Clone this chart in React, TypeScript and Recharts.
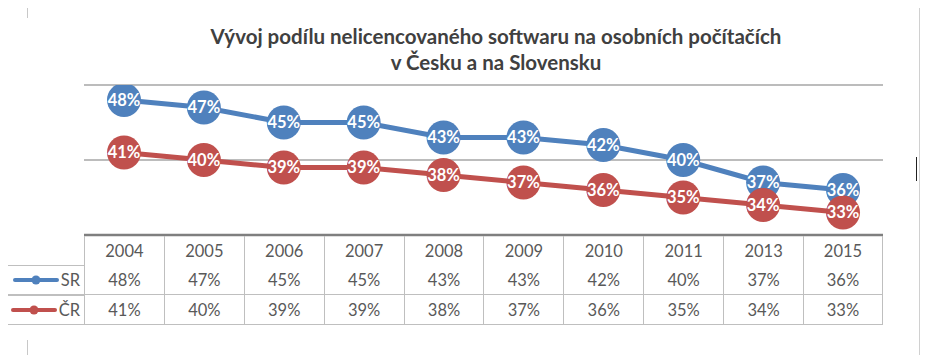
import React from 'react';
import { LineChart, Line, XAxis, YAxis, ReferenceLine, LabelList } from 'recharts';

const years = ['2004', '2005', '2006', '2007', '2008', '2009', '2010', '2011', '2013', '2015'];
const srValues = [48, 47, 45, 45, 43, 43, 42, 40, 37, 36];
const crValues = [41, 40, 39, 39, 38, 37, 36, 35, 34, 33];
const gridValues = [50, 40];

const SR_COLOR = '#4F81BD';
const CR_COLOR = '#C0504D';
const FONT = 'Lato, "Open Sans", sans-serif';

const data = years.map((year, i) => ({ year, sr: srValues[i], cr: crValues[i] }));

const BigDot = (props: any) => {
  const { cx, cy, fill } = props;
  if (cx == null || cy == null) return null;
  return <circle cx={cx} cy={cy} r={17} fill={fill} />;
};

const pct = (v: any) => `${v}%`;

const cellBase: React.CSSProperties = {
  boxSizing: 'border-box',
  height: 30,
  display: 'flex',
  alignItems: 'center',
  justifyContent: 'center',
  color: '#595959',
  fontSize: 16.5,
};

const LegendKey = ({ color }: { color: string }) => (
  <svg width={46} height={10} style={{ marginRight: 2 }}>
    <line x1={2} y1={5} x2={44} y2={5} stroke={color} strokeWidth={4} strokeLinecap="round" />
    <circle cx={23} cy={5} r={4.5} fill={color} />
  </svg>
);

const TableRow = ({ label, color, values }: { label: string; color: string; values: number[] }) => (
  <div style={{ display: 'flex' }}>
    <div
      style={{
        ...cellBase,
        width: 77,
        justifyContent: 'flex-end',
        paddingRight: 4,
        borderLeft: '1px solid #bfbfbf',
        borderBottom: '1px solid #bfbfbf',
        borderTop: '1px solid #bfbfbf',
      }}
    >
      <LegendKey color={color} />
      {label}
    </div>
    {values.map((v, i) => (
      <div
        key={i}
        style={{
          ...cellBase,
          width: 79.9,
          borderLeft: '1px solid #bfbfbf',
          borderBottom: '1px solid #bfbfbf',
          borderRight: i === values.length - 1 ? '1px solid #bfbfbf' : undefined,
        }}
      >
        {pct(v)}
      </div>
    ))}
  </div>
);

export default function App() {
  return (
    <div style={{ position: 'relative', width: 936, height: 363, background: '#fff', fontFamily: FONT, margin: -8, overflow: 'hidden' }}>
      <div
        style={{
          position: 'absolute',
          left: 0,
          width: 992,
          top: 23,
          textAlign: 'center',
          fontWeight: 700,
          fontSize: 20.5,
          lineHeight: '26px',
          color: '#404040',
        }}
      >
        Vývoj podílu nelicencovaného softwaru na osobních počítačích
        <br />
        v Česku a na Slovensku
      </div>

      <div style={{ position: 'absolute', left: 0, top: 0 }}>
        <LineChart width={936} height={363} data={data} margin={{ top: 85, right: 53, bottom: 128, left: 84 }}>
          <XAxis dataKey="year" hide padding={{ left: 40, right: 40 }} />
          <YAxis hide domain={[30, 50]} type="number" allowDataOverflow />
          {gridValues.map((g) => (
            <ReferenceLine key={g} y={g} stroke="#a6a6a6" strokeWidth={1.5} />
          ))}
          <ReferenceLine y={30} stroke="#7f7f7f" strokeWidth={2.5} />
          <Line
            dataKey="sr"
            stroke={SR_COLOR}
            strokeWidth={5}
            dot={<BigDot fill={SR_COLOR} />}
            activeDot={false}
            isAnimationActive={false}
          >
            <LabelList dataKey="sr" position="center" formatter={pct} fill="#fff" fontSize={16.5} fontWeight={700} fontFamily={FONT} />
          </Line>
          <Line
            dataKey="cr"
            stroke={CR_COLOR}
            strokeWidth={5}
            dot={<BigDot fill={CR_COLOR} />}
            activeDot={false}
            isAnimationActive={false}
          >
            <LabelList dataKey="cr" position="center" formatter={pct} fill="#fff" fontSize={16.5} fontWeight={700} fontFamily={FONT} />
          </Line>
        </LineChart>
      </div>

      <div style={{ position: 'absolute', left: 7, top: 236 }}>
        <div style={{ display: 'flex' }}>
          <div style={{ width: 77 }} />
          {years.map((y, i) => (
            <div
              key={y}
              style={{
                ...cellBase,
                height: 29,
                width: 79.9,
                borderLeft: '1px solid #bfbfbf',
                borderRight: i === years.length - 1 ? '1px solid #bfbfbf' : undefined,
              }}
            >
              {y}
            </div>
          ))}
        </div>
        <TableRow label="SR" color={SR_COLOR} values={srValues} />
        <TableRow label="ČR" color={CR_COLOR} values={crValues} />
      </div>

      <div style={{ position: 'absolute', left: 919, top: 0, width: 1, height: 363, background: '#d0d0d0' }} />
      <div style={{ position: 'absolute', left: 27, top: 0, width: 1, height: 18, background: '#c8c8c8' }} />
      <div style={{ position: 'absolute', left: 27, top: 340, width: 1, height: 23, background: '#c8c8c8' }} />
      <div style={{ position: 'absolute', left: 916, top: 157, width: 1, height: 24, background: '#222' }} />
    </div>
  );
}
